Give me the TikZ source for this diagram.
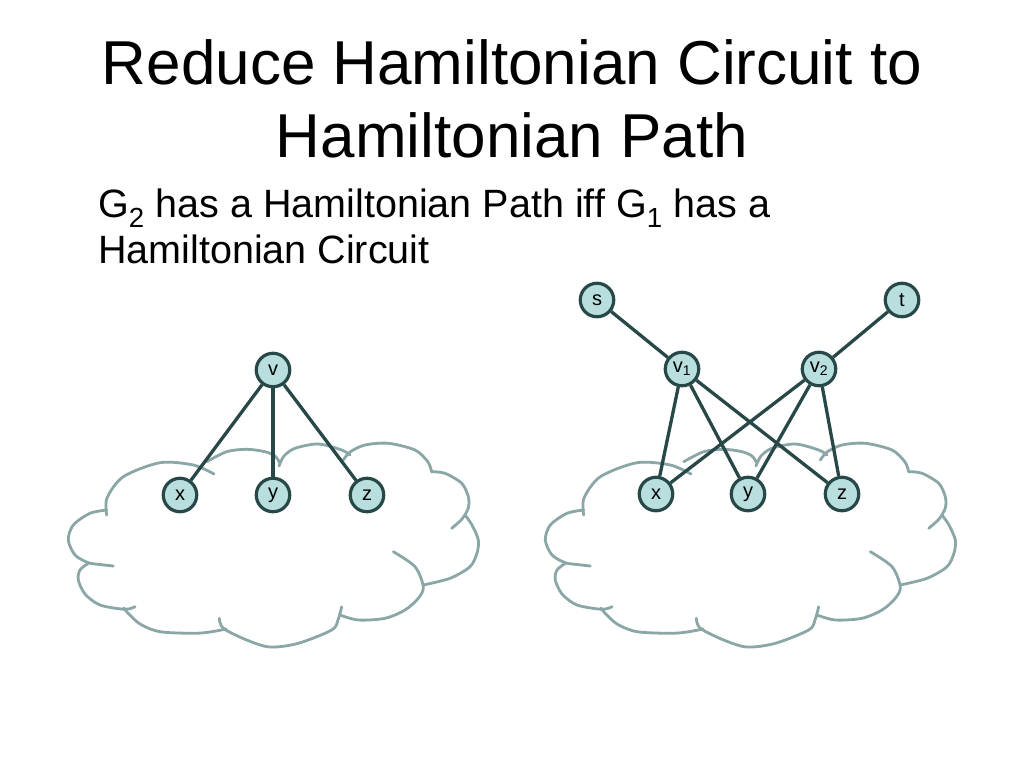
\documentclass[tikz,border=0pt]{standalone}
\usepackage{fontspec}
\setmainfont{Liberation Sans}
\definecolor{cloudcol}{RGB}{138,166,166}
\definecolor{edgecol}{RGB}{40,72,72}
\definecolor{nodefill}{RGB}{185,222,222}
\tikzset{
  cloudline/.style={draw=cloudcol, line width=2.8pt, line cap=round},
  gedge/.style={draw=edgecol, line width=3.3pt},
  vertex/.style={circle, draw=edgecol, line width=3.2pt, fill=nodefill, minimum size=33.5pt, inner sep=0pt, font=\fontsize{20}{22}\selectfont},
  pics/hcloud/.style={code={
    \draw[cloudline] plot[smooth] coordinates {(106.7,515) (107,498) (123.3,476.7) (160,462.7) (193.3,465) (214,474)};
    \draw[cloudline] plot[smooth] coordinates {(206.7,461.7) (226.7,451.7) (246.7,449.3) (265,451.7) (275,456) (280,463.3)};
    \draw[cloudline] plot[smooth] coordinates {(279,466) (284,456) (295,448.3) (318.3,444) (341.7,450) (350,455)};
    \draw[cloudline] plot[smooth] coordinates {(343.3,460) (350,452) (365,445) (388.3,443.3) (415,450) (428,462) (431.7,472)};
    \draw[cloudline] plot[smooth] coordinates {(431.7,471.7) (445,473.3) (461.7,483.3) (468.3,496.7) (468.3,508) (462,519) (451.7,528.3)};
    \draw[cloudline] plot[smooth] coordinates {(465,515) (472,525) (478.3,540) (477,553) (470,566.7) (450,578.3) (423.3,585)};
    \draw[cloudline] plot[smooth] coordinates {(393.3,551.7) (415,566.7) (423.3,586.7) (418.3,598.3) (405,610) (385,618.3) (358.3,620) (340,615)};
    \draw[cloudline] plot[smooth] coordinates {(341.7,606.7) (338,620) (331.7,630) (298.3,643.3) (270,647) (246.7,640) (223.3,628.3) (219.3,618.3)};
    \draw[cloudline] plot[smooth] coordinates {(226,629) (210,632) (193.3,633.3) (160,631.7) (140,624) (126.7,611.7) (124,608)};
    \draw[cloudline] plot[smooth] coordinates {(135,606.7) (125,609.3) (100,605) (85,594) (78.3,580) (80,570) (88.3,563.3)};
    \draw[cloudline] plot[smooth] coordinates {(113.3,566) (100,564.5) (88.3,562.7) (75,555) (68.3,540) (73.3,525) (90,513.3) (106.7,510)};
  }}
}
\begin{document}
\begin{tikzpicture}[x=1pt,y=-1pt]
\useasboundingbox[fill=white] (0,0) rectangle (1024,768);
% titles
\node[anchor=base, inner sep=0pt, font=\fontsize{62}{74}\selectfont] (t1) at (512,84) {Reduce Hamiltonian Circuit to};
\node[anchor=base, inner sep=0pt, font=\fontsize{62}{74}\selectfont] (t2) at (512,157) {Hamiltonian Path};
\node[anchor=base west, inner sep=0pt, font=\fontsize{39.5}{46}\selectfont] (s1) at (98,217) {G\textsubscript{2} has a Hamiltonian Path iff G\textsubscript{1} has a};
\node[anchor=base west, inner sep=0pt, font=\fontsize{39.5}{46}\selectfont] (s2) at (98,263) {Hamiltonian Circuit};
% clouds
\pic at (0,0) {hcloud};
\pic at (477,0) {hcloud};
% left graph
\node[vertex] (v) at (273,370) {v};
\node[vertex] (x) at (180,495) {x};
\node[vertex] (y) at (273,495) {y};
\node[vertex] (z) at (367,495) {z};
% right graph
\node[vertex] (s) at (597,300) {s};
\node[vertex] (t) at (902,300) {t};
\node[vertex] (v1) at (682,369) {v\textsubscript{1}};
\node[vertex] (v2) at (819,369) {v\textsubscript{2}};
\node[vertex] (x2) at (656,494) {x};
\node[vertex] (y2) at (748,494) {y};
\node[vertex] (z2) at (842,494) {z};
% edges
\draw[gedge] (v) -- (x);
\draw[gedge] (v) -- (y);
\draw[gedge] (v) -- (z);
\draw[gedge] (s) -- (v1);
\draw[gedge] (t) -- (v2);
\draw[gedge] (v1) -- (x2);
\draw[gedge] (v1) -- (y2);
\draw[gedge] (v1) -- (z2);
\draw[gedge] (v2) -- (x2);
\draw[gedge] (v2) -- (y2);
\draw[gedge] (v2) -- (z2);
\end{tikzpicture}
\end{document}
